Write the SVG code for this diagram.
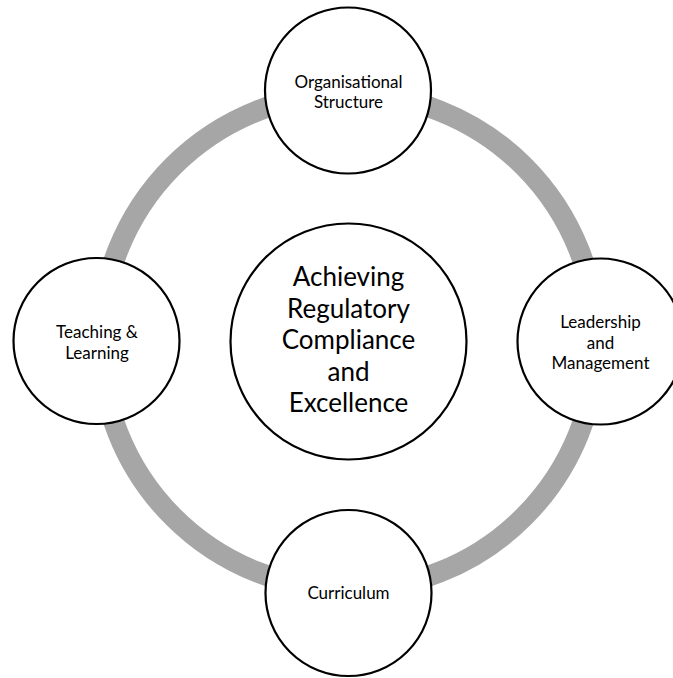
<svg xmlns="http://www.w3.org/2000/svg" width="673" height="678" viewBox="0 0 673 678">
<style>
.node{fill:#fff;stroke:#000;stroke-width:2.2}
.t{font-family:Lato,"Liberation Sans",sans-serif;font-size:17px;fill:#000;text-anchor:middle}
.tc{font-family:Lato,"Liberation Sans",sans-serif;font-size:26px;fill:#000;text-anchor:middle}
.ring{fill:none;stroke:#A6A6A6;stroke-width:21}
</style>
<rect width="673" height="678" fill="#fff"/>
<g id="connectors">
<circle class="ring" cx="348.5" cy="341.5" r="248"/>
</g>
<g id="center">
<circle class="node" cx="348.5" cy="341.5" r="118"/>
<text class="tc" x="348.5" y="286">Achieving</text>
<text class="tc" x="348.5" y="317.5">Regulatory</text>
<text class="tc" x="348.5" y="349">Compliance</text>
<text class="tc" x="348.5" y="380.5">and</text>
<text class="tc" x="348.5" y="412">Excellence</text>
</g>
<g id="organisational-structure">
<circle class="node" cx="348" cy="90.5" r="83"/>
<text class="t" x="348.5" y="87.5">Organisational</text>
<text class="t" x="348.5" y="108">Structure</text>
</g>
<g id="leadership-management">
<circle class="node" cx="600.5" cy="341.5" r="83"/>
<text class="t" x="600.5" y="328">Leadership</text>
<text class="t" x="600.5" y="348.5">and</text>
<text class="t" x="600.5" y="369">Management</text>
</g>
<g id="curriculum">
<circle class="node" cx="348.5" cy="593" r="83"/>
<text class="t" x="348.5" y="599">Curriculum</text>
</g>
<g id="teaching-learning">
<circle class="node" cx="96.5" cy="341" r="83"/>
<text class="t" x="97" y="338">Teaching &amp;</text>
<text class="t" x="97" y="358.5">Learning</text>
</g>
</svg>
